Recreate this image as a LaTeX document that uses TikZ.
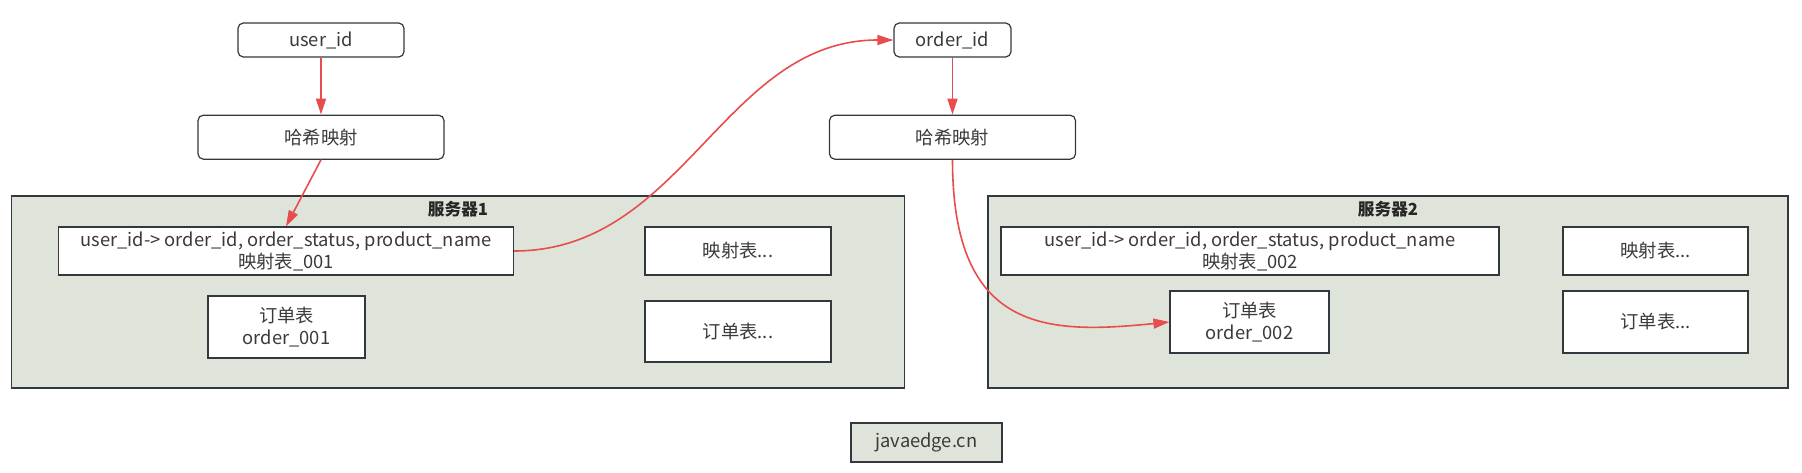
\documentclass[tikz,border=0pt]{standalone}
\usepackage{fontspec}
\setmainfont{Noto Sans CJK SC}
\usepackage{xcolor}
\usetikzlibrary{arrows.meta,positioning}
\definecolor{linkred}{HTML}{E84D4D}
\definecolor{srvgreen}{HTML}{DFE4DA}
\definecolor{edgegray}{HTML}{33383D}
\definecolor{txtgray}{HTML}{3A3A3A}

\begin{document}
\begin{tikzpicture}[x=0.75pt, y=-0.75pt, font=\fontsize{13.75}{16.5}\selectfont,
  key/.style={draw=edgegray, line width=0.9pt, rounded corners=4pt, fill=white,
              text=txtgray, inner sep=0pt, minimum height=25.5pt},
  hash/.style={key, minimum width=184.5pt, minimum height=33pt},
  srv/.style={draw=edgegray, line width=0.9pt, fill=srvgreen, inner sep=0pt,
              minimum height=144pt},
  srvtitle/.style={font=\fontsize{12.5}{14}\selectfont\bfseries, text=black!85, inner sep=0pt},
  tbl/.style={draw=edgegray, line width=0.9pt, fill=white, text=txtgray, align=center,
              inner sep=0pt},
  a/.style={-{Triangle[length=12pt, width=7.5pt]}, draw=linkred, line width=1.2pt}]
\useasboundingbox (0,0) rectangle (1802,472);
\node[srv, minimum width=669.75pt] (srvA) at (458,292) {};
\node[srv, minimum width=600pt] (srvB) at (1388,292) {};
\node[srvtitle, below=4pt of srvA.north] (ttlA) {服务器1};
\node[srvtitle, below=4pt of srvB.north] (ttlB) {服务器2};
\node[key, minimum width=124.5pt] (userid) at (321,40) {user\_id};
\node[hash, below=42.75pt of userid] (hashA) {哈希映射};
\node[key, minimum width=87.75pt] (orderid) at (952.5,40) {order\_id};
\node[hash, below=42.75pt of orderid] (hashB) {哈希映射};
\node[tbl, minimum width=341.25pt, minimum height=36pt] (mapA) at (286,251)
  {user\_id-> order\_id, order\_status, product\_name\\映射表\_001};
\node[tbl, minimum width=139.5pt, minimum height=36pt] (mapAx) at (738,251) {映射表...};
\node[tbl, minimum width=117.75pt, minimum height=46.5pt] (ordA) at (286.5,327)
  {订单表\\order\_001};
\node[tbl, minimum width=139.5pt, minimum height=45.75pt] (ordAx) at (738,331.5) {订单表...};
\node[tbl, minimum width=373.5pt, minimum height=36pt] (mapB) at (1250,251)
  {user\_id-> order\_id, order\_status, product\_name\\映射表\_002};
\node[tbl, minimum width=138.75pt, minimum height=36pt] (mapBx) at (1655.5,251) {映射表...};
\node[tbl, minimum width=119.25pt, minimum height=46.5pt] (ordB) at (1249.5,322)
  {订单表\\order\_002};
\node[tbl, minimum width=138.75pt, minimum height=46.5pt] (ordBx) at (1655.5,322) {订单表...};
\node[tbl, fill=srvgreen, minimum width=113.25pt, minimum height=29.25pt] (site)
  at (926.5,442.5) {javaedge.cn};
\draw[a] (userid) -- (hashA);
\draw[a] (hashA.south) -- (mapA.north);
\draw[a] (mapA.east) to[out=0, in=180] (orderid.west);
\draw[a] (orderid) -- (hashB);
\draw[a] (hashB.south) .. controls +(0,175) and +(-120,12) .. (ordB.west);
\end{tikzpicture}
\end{document}
